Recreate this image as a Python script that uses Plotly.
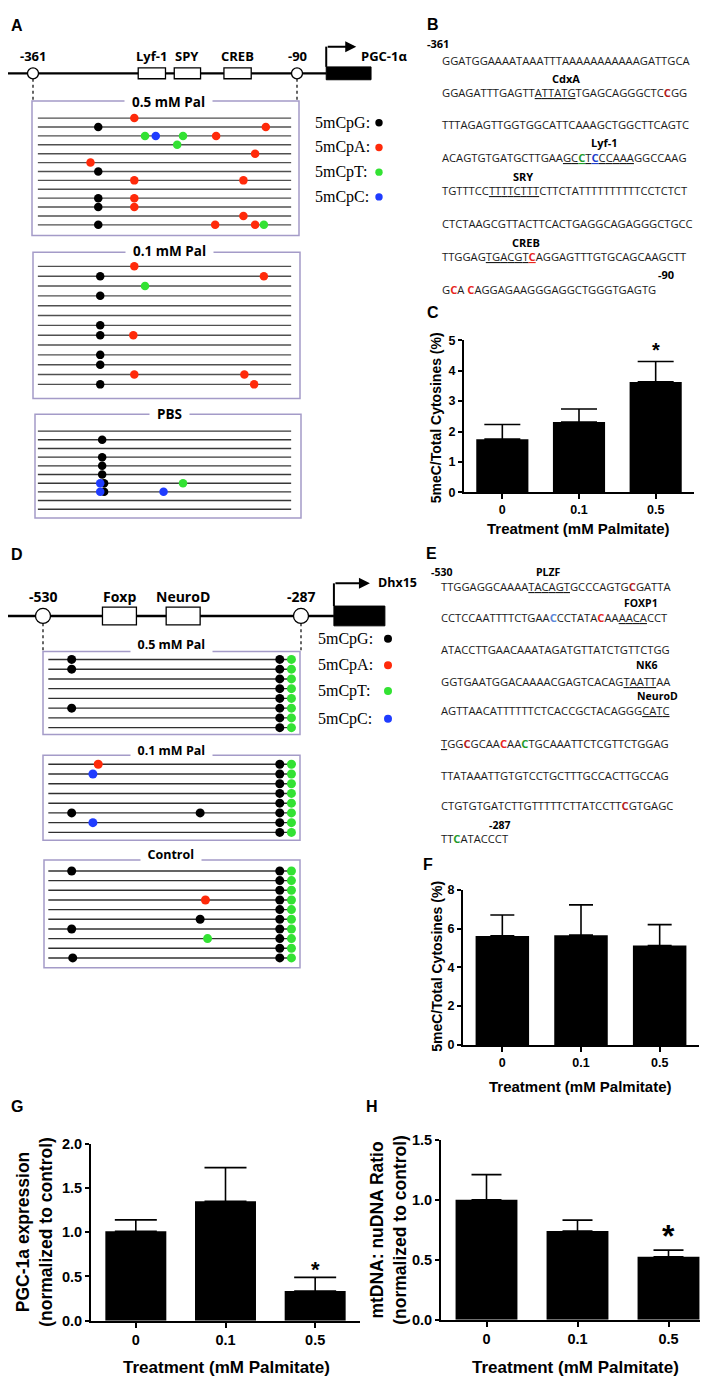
import plotly.graph_objects as go

W, H = 708, 1378

# ======================= DATA =======================
treatment = ["0", "0.1", "0.5"]

# C: PGC-1a promoter methylation (5meC / total cytosines, %)
c_mean = [1.75, 2.31, 3.63]
c_sem = [0.48, 0.43, 0.67]
# F: Dhx15 promoter methylation
f_mean = [5.62, 5.66, 5.12]
f_sem = [1.08, 1.56, 1.08]
# G: PGC-1a expression (normalized to control)
g_mean = [1.01, 1.35, 0.335]
g_sem = [0.13, 0.38, 0.155]
# H: mtDNA : nuDNA ratio (normalized to control)
h_mean = [1.00, 0.74, 0.525]
h_sem = [0.21, 0.09, 0.055]
significant = "0.5"

# A: PGC-1a promoter region (bp)
pgc_region = [-361, -90]
pgc_site_names = ["Lyf-1", "SPY", "CREB"]
pgc_site_start = [-253, -216, -165]
pgc_site_end = [-225, -189, -137]
pgc_gene = [-60, -14]
pgc_read_span = [-356, -96]

pgc_05 = [
    [(-257, "A")],
    [(-294, "G"), (-122, "A")],
    [(-246, "T"), (-235, "C"), (-207, "T"), (-173, "A")],
    [(-213, "T")],
    [(-133, "A")],
    [(-302, "A")],
    [(-294, "G")],
    [(-257, "A"), (-145, "A")],
    [],
    [(-294, "G"), (-257, "A")],
    [(-294, "G"), (-257, "A")],
    [(-145, "A")],
    [(-294, "G"), (-174, "A"), (-133, "A"), (-124, "T")],
]
pgc_01 = [
    [(-257, "A")],
    [(-292, "G"), (-124, "A")],
    [(-246, "T")],
    [(-292, "G")],
    [],
    [],
    [(-292, "G")],
    [(-292, "G"), (-258, "A")],
    [],
    [(-292, "G")],
    [(-292, "G")],
    [(-257, "A"), (-144, "A")],
    [(-292, "G"), (-134, "A")],
]
pgc_pbs = [
    [],
    [(-290, "G")],
    [],
    [(-290, "G")],
    [(-290, "G")],
    [(-290, "G")],
    [(-288, "G"), (-292, "C"), (-207, "T")],
    [(-288, "G"), (-292, "C"), (-227, "C")],
    [],
    [],
]

# D: Dhx15 promoter region (bp)
dhx_region = [-530, -287]
dhx_site_names = ["Foxp", "NeuroD"]
dhx_site_start = [-474, -414]
dhx_site_end = [-442, -382]
dhx_gene = [-256, -208]
dhx_read_span = [-525, -296]

dhx_05 = [
    [(-503, "G"), (-307, "G"), (-296, "T")],
    [(-503, "G"), (-307, "G"), (-296, "T")],
    [(-307, "G"), (-296, "T")],
    [(-307, "G"), (-296, "T")],
    [(-307, "G"), (-296, "T")],
    [(-503, "G"), (-307, "G"), (-296, "T")],
    [(-307, "G"), (-296, "T")],
    [(-307, "G"), (-296, "T")],
]
dhx_01 = [
    [(-478, "A"), (-307, "G"), (-296, "T")],
    [(-483, "C"), (-307, "G"), (-296, "T")],
    [(-307, "G"), (-296, "T")],
    [(-307, "G"), (-296, "T")],
    [(-307, "G"), (-296, "T")],
    [(-503, "G"), (-382, "G"), (-307, "G"), (-296, "T")],
    [(-483, "C"), (-307, "G"), (-296, "T")],
    [(-307, "G"), (-296, "T")],
]
dhx_ctrl = [
    [(-503, "G"), (-307, "G"), (-296, "T")],
    [(-307, "G"), (-296, "T")],
    [(-307, "G"), (-296, "T")],
    [(-377, "A"), (-307, "G"), (-296, "T")],
    [(-307, "G"), (-296, "T")],
    [(-382, "G"), (-307, "G"), (-296, "T")],
    [(-503, "G"), (-307, "G"), (-296, "T")],
    [(-375, "T"), (-307, "G"), (-296, "T")],
    [(-307, "G"), (-296, "T")],
    [(-502, "G"), (-307, "G"), (-296, "T")],
]

legend_labels = ["5mCpG:", "5mCpA:", "5mCpT:", "5mCpC:"]
legend_keys = ["G", "A", "T", "C"]

# B / E sequences: [..] underlined, {k:C} coloured base
seq_B = [
    "GGATGGAAAATAAATTTAAAAAAAAAAAGATTGCA",
    "GGAGATTTGAGTT[ATTATG]TGAGCAGGGCTC{d:C}GG",
    "TTTAGAGTTGGTGGCATTCAAAGCTGGCTTCAGTC",
    "ACAGTGTGATGCTTGAA[GC{g:C}T{b:C}CCAAA]GGCCAAG",
    "TGTTTCC[TTTTCTTT]CTTCTATTTTTTTTTTCCTCTCT",
    "CTCTAAGCGTTACTTCACTGAGGCAGAGGGCTGCC",
    "TTGGAG[TGACGT{r:C}]AGGAGTTTGTGCAGCAAGCTT",
    "G{r:C}A {r:C}AGGAGAAGGGAGGCTGGGTGAGTG",
]
seq_B_labels = [("-361", "left"), ("CdxA", "center"), ("Lyf-1", "center"),
                ("SRY", "center"), ("CREB", "center"), ("-90", "center")]
seq_E = [
    "TTGGAGGCAAAA[TACAGT]GCCCAGTG{d:C}GATTA",
    "CCTCCAATTTTCTGAA{l:C}CCTATA{r:C}AA[AACA]CCT",
    "ATACCTTGAACAAATAGATGTTATCTGTTCTGG",
    "GGTGAATGGACAAAACGAGTCACAG[TAATT]AA",
    "AGTTAACATTTTTTCTCACCGCTACAGGG[CATC]",
    "[T]GG{d:C}GCAA{r:C}AA{g:C}TGCAAATTCTCGTTCTGGAG",
    "TTATAAATTGTGTCCTGCTTTGCCACTTGCCAG",
    "CTGTGTGATCTTGTTTTTCTTATCCTT{d:C}GTGAGC",
    "TT{g:C}ATACCCT",
]
seq_E_labels = [("-530", "left"), ("PLZF", "center"), ("FOXP1", "center"),
                ("NK6", "center"), ("NeuroD", "center"), ("-287", "center")]

# ======================= STYLE / LAYOUT =======================
AX_FONT = "Liberation Sans, Arial, sans-serif"
DG_FONT = "Open Sans, Liberation Sans, sans-serif"
SERIF = "Liberation Serif, Times New Roman, serif"
DOT = {"G": "#000000", "A": "#ff2a0a", "T": "#33e233", "C": "#1f3cff"}
SEQ_COL = {"r": "#e8251e", "d": "#b3201c", "g": "#1e9a2a", "b": "#1f3fcc", "l": "#5a86d8"}
FRAME = "#a49bc8"
SEQ_FS = 11.2

fig = go.Figure()
shapes, annotations = [], []
layout = dict(width=W, height=H, margin=dict(l=0, r=0, t=0, b=0),
              paper_bgcolor="white", plot_bgcolor="rgba(0,0,0,0)", showlegend=False)


def X(p):
    return p / W


def Y(p):
    return 1 - p / H


def ann(text, x, y, size, family=AX_FONT, color="black", xanchor="center",
        yanchor="middle", xref="paper", yref="paper", **kw):
    d = dict(text=text, x=X(x) if xref == "paper" else x, y=Y(y) if yref == "paper" else y,
             xref=xref, yref=yref, xanchor=xanchor, yanchor=yanchor, showarrow=False,
             font=dict(family=family, size=size, color=color))
    d.update(kw)
    annotations.append(d)


# ---------------- bar charts ----------------
bar_specs = [
    ("", c_mean, c_sem, (456, 686), (328, 482), [0, 5], 1, "d", 12.5, 18),
    ("2", f_mean, f_sem, (455, 691), (884, 1041), [0, 8], 2, "d", 12.5, 12),
    ("3", g_mean, g_sem, (83, 352), (1141, 1320), [0, 2], 0.5, ".1f", 14.5, 21),
    ("4", h_mean, h_sem, (433, 706), (1137, 1319), [0, 1.5], 0.5, ".1f", 14.5, 15),
]
for s, mean, sem, (x0, x1), (y0, y1), yr, dt, fmt, fs, cap in bar_specs:
    fig.add_trace(go.Bar(
        x=treatment, y=mean, width=0.68, marker=dict(color="black", line=dict(width=0)),
        error_y=dict(type="data", symmetric=False, array=sem, arrayminus=[0] * len(sem),
                     color="black", thickness=1.6, width=cap),
        xaxis="x" + s, yaxis="y" + s, hoverinfo="skip"))
    tf = dict(family=AX_FONT, size=fs, color="black", weight="bold")
    layout["xaxis" + s] = dict(domain=[X(x0), X(x1)], anchor="y" + s, type="category",
                               range=[-0.5, 2.5], showline=True, linecolor="black", linewidth=2,
                               ticks="outside", ticklen=5, tickwidth=1.5, tickcolor="black",
                               showgrid=False, zeroline=False, tickfont=tf, fixedrange=True)
    layout["yaxis" + s] = dict(domain=[Y(y1), Y(y0)], anchor="x" + s, range=yr, dtick=dt, tick0=0,
                               tickformat=fmt, showline=True, linecolor="black", linewidth=2,
                               ticks="outside", ticklen=4, tickwidth=1.5, tickcolor="black",
                               showgrid=False, zeroline=False, tickfont=tf, fixedrange=True)

# significance stars
si = treatment.index(significant)
ann("<b>*</b>", si, c_mean[si] + c_sem[si], 20, xref="x", yref="y", yshift=12)
ann("<b>*</b>", si, g_mean[si] + g_sem[si], 22, xref="x3", yref="y3", yshift=8)
ann("<b>*</b>", si, h_mean[si] + h_sem[si], 32, xref="x4", yref="y4", yshift=14)

# axis titles
ann("<b>5meC/Total Cytosines (%)</b>", 428, 407, 14, textangle=-90)
ann("<b>Treatment (mM Palmitate)</b>", 570, 519, 15)
ann("<b>5meC/Total Cytosines (%)</b>", 429, 962, 14, textangle=-90)
ann("<b>Treatment (mM Palmitate)</b>", 572, 1083, 15)
ann("<b>PGC-1a expression<br>(normalized to control)</b>", 27, 1230, 17.5, textangle=-90)
ann("<b>Treatment (mM Palmitate)</b>", 218, 1367, 17)
ann("<b>mtDNA: nuDNA Ratio<br>(normalized to control)</b>", 381, 1228, 17.5, textangle=-90)
ann("<b>Treatment (mM Palmitate)</b>", 567, 1367, 17)


# ---------------- methylation diagrams ----------------
def full_range(p0, v0, p1, v1):
    k = (v1 - v0) / (p1 - p0)
    return [v0 - p0 * k, v0 + (W - p0) * k]


def row_axis(name, anchor, first, last, n):
    sp = (last - first) / (n - 1)
    layout[name] = dict(domain=[Y(last + sp / 2), Y(first - sp / 2)], range=[n - 0.5, -0.5],
                        anchor=anchor, visible=False, fixedrange=True)


def clone_traces(rows, xa, ya, span, size, lcolor):
    lx, ly = [], []
    for i in range(len(rows)):
        lx += [span[0], span[1], None]
        ly += [i, i, None]
    fig.add_trace(go.Scatter(x=lx, y=ly, mode="lines", line=dict(color=lcolor, width=1.4),
                             xaxis=xa, yaxis=ya, hoverinfo="skip"))
    for key in legend_keys:
        xs, ys = [], []
        for i, row in enumerate(rows):
            for pos, c in row:
                if c == key:
                    xs.append(pos)
                    ys.append(i)
        if xs:
            fig.add_trace(go.Scatter(x=xs, y=ys, mode="markers", cliponaxis=False,
                                     marker=dict(size=size, color=DOT[key], line=dict(width=0)),
                                     xaxis=xa, yaxis=ya, hoverinfo="skip"))


def frame(x0, x1, y0, y1, title, tx, ty, tsize):
    shapes.append(dict(type="rect", xref="paper", yref="paper", x0=X(x0), x1=X(x1),
                       y0=Y(y1), y1=Y(y0), line=dict(color=FRAME, width=1.5), fillcolor="rgba(0,0,0,0)"))
    ann("<b>\u00a0 " + title + " \u00a0</b>", tx, ty, tsize, family=DG_FONT, bgcolor="white",
        borderpad=0)


def promoter(xa, axr, yline, region, names, starts, ends, gene, gene_label, bh, cr,
             lab_y, lab_fs, dash_to, arrow_top, arrow_len, gl_x, gl_y, gl_fs):
    shapes.append(dict(type="line", xref=xa, yref="paper", x0=axr[0], x1=gene[0],
                       y0=Y(yline), y1=Y(yline), line=dict(color="black", width=2.4)))
    for nm, a, b in zip(names, starts, ends):
        shapes.append(dict(type="rect", xref=xa, yref="paper", x0=a, x1=b, y0=Y(yline + bh / 2),
                           y1=Y(yline - bh / 2), fillcolor="white", line=dict(color="black", width=1.3)))
        ann("<b>" + nm + "</b>", (a + b) / 2, lab_y, lab_fs, family=DG_FONT, xref=xa)
    shapes.append(dict(type="rect", xref=xa, yref="paper", x0=gene[0], x1=gene[1],
                       y0=Y(yline + bh / 2 + 1), y1=Y(yline - bh / 2 - 1), fillcolor="black",
                       line=dict(color="black", width=1)))
    shapes.append(dict(type="line", xref=xa, yref="paper", x0=gene[0], x1=gene[0],
                       y0=Y(yline - bh / 2 - 1), y1=Y(arrow_top), line=dict(color="black", width=2)))
    annotations.append(dict(text="", x=gene[0], y=Y(arrow_top), xref=xa, yref="paper",
                            xshift=arrow_len, ax=-arrow_len, ay=0, showarrow=True, arrowhead=2,
                            arrowsize=1.1, arrowwidth=2, arrowcolor="black", standoff=0))
    ann("<b>" + gene_label + "</b>", gl_x, gl_y, gl_fs, family=DG_FONT, xanchor="left")
    for r in region:
        shapes.append(dict(type="line", xref=xa, yref="paper", x0=r, x1=r, y0=Y(yline + cr),
                           y1=Y(dash_to), line=dict(color="black", width=1.2, dash="3px,3px")))
        shapes.append(dict(type="circle", xref=xa, yref="paper", xsizemode="pixel",
                           ysizemode="pixel", xanchor=r, yanchor=Y(yline), x0=-cr, x1=cr,
                           y0=-cr, y1=cr, fillcolor="white", line=dict(color="black", width=1.3)))
        ann("<b>%d</b>" % r, r, lab_y, lab_fs, family=DG_FONT, xref=xa)


# ---- panel A ----
xA_range = full_range(25, pgc_region[0], 289, pgc_region[1])
layout["xaxis5"] = dict(domain=[0, 1], range=xA_range, anchor="y5", visible=False, fixedrange=True)
row_axis("yaxis5", "x5", 103.3, 211.3, len(pgc_05))
row_axis("yaxis6", "x5", 253.3, 372.7, len(pgc_01))
row_axis("yaxis7", "x5", 420.0, 499.0, len(pgc_pbs))
promoter("x5", xA_range, 58, pgc_region, pgc_site_names, pgc_site_start, pgc_site_end,
         pgc_gene, "PGC-1\u03b1", 11, 5.5, 40, 13, 86, 31, 30, 351, 40, 13)
frame(24, 291, 86, 222, "0.5 mM Pal", 160, 87, 13.5)
frame(25, 292, 239, 387, "0.1 mM Pal", 161, 238, 13.5)
frame(27, 293, 403, 508, "PBS", 161, 403, 13.5)
clone_traces(pgc_05, "x5", "y5", pgc_read_span, 8.5, "#505050")
clone_traces(pgc_01, "x5", "y6", pgc_read_span, 8.5, "#505050")
clone_traces(pgc_pbs, "x5", "y7", pgc_read_span, 8.5, "#383838")

# ---- panel D ----
xD_range = full_range(35, dhx_region[0], 293, dhx_region[1])
layout["xaxis6"] = dict(domain=[0, 1], range=xD_range, anchor="y8", visible=False, fixedrange=True)
row_axis("yaxis8", "x6", 651, 720, len(dhx_05))
row_axis("yaxis9", "x6", 757, 826, len(dhx_01))
row_axis("yaxis10", "x6", 865, 953, len(dhx_ctrl))
promoter("x6", xD_range, 607, dhx_region, dhx_site_names, dhx_site_start, dhx_site_end,
         dhx_gene, "Dhx15", 18, 7.5, 587, 14, 643, 574, 36, 368, 573, 12.5)
frame(35, 292, 643, 727, "0.5 mM Pal", 163, 636, 12.5)
frame(35, 292, 748, 834, "0.1 mM Pal", 163, 743, 12.5)
frame(36, 292, 854, 963, "Control", 163, 848, 12.5)
clone_traces(dhx_05, "x6", "y8", dhx_read_span, 9, "#303030")
clone_traces(dhx_01, "x6", "y9", dhx_read_span, 9, "#303030")
clone_traces(dhx_ctrl, "x6", "y10", dhx_read_span, 9, "#303030")

# ---- legends ----
for (lx, dx, ys, dr) in [(305, 371, [108, 133, 158, 183], 3.7), (308, 380, [630, 657, 683, 711], 4)]:
    for lab, key, yy in zip(legend_labels, legend_keys, ys):
        ann(lab, lx, yy, 16, family=SERIF, xanchor="left")
        shapes.append(dict(type="circle", xref="paper", yref="paper", xsizemode="pixel",
                           ysizemode="pixel", xanchor=X(dx), yanchor=Y(yy), x0=-dr, x1=dr,
                           y0=-dr, y1=dr, fillcolor=DOT[key], line=dict(width=0)))


# ---------------- sequences ----------------
def seq_to_html(s):
    out, ul, i = [], False, 0
    while i < len(s):
        ch = s[i]
        if ch == "[":
            ul = True
            i += 1
            continue
        if ch == "]":
            ul = False
            i += 1
            continue
        if ch == "{":
            j = s.index("}", i)
            k, letters = s[i + 1:j].split(":")
            style = "color:%s;font-weight:bold" % SEQ_COL[k]
            i = j + 1
        else:
            letters, style = ch, ""
            i += 1
        if ul:
            style = (style + ";" if style else "") + "text-decoration:underline"
        out.append("<span style='%s'>%s</span>" % (style, letters) if style else letters)
    return "".join(out)


seq_B_y = [45, 77, 110, 143, 177, 210, 243, 277]
seq_B_lab_pos = [(417, 28), (558, 63), (596, 128), (515, 162), (518, 229), (658, 262)]
for s, yy in zip(seq_B, seq_B_y):
    ann(seq_to_html(s), 432, yy, SEQ_FS, family=DG_FONT, color="#1a1a1a", xanchor="left")
for (lab, anc), (lx, ly) in zip(seq_B_labels, seq_B_lab_pos):
    ann("<b>" + lab + "</b>", lx, ly, 11, family=DG_FONT, xanchor=anc)

seq_E_y = [577, 609, 641, 673, 703, 736, 768, 799, 832]
seq_E_lab_pos = [(421, 563), (540, 563), (633, 594), (639, 657), (649, 688), (491, 819)]
for s, yy in zip(seq_E, seq_E_y):
    ann(seq_to_html(s), 431, yy, SEQ_FS, family=DG_FONT, color="#1a1a1a", xanchor="left")
for (lab, anc), (lx, ly) in zip(seq_E_labels, seq_E_lab_pos):
    ann("<b>" + lab + "</b>", lx, ly, 10.5, family=DG_FONT, xanchor=anc)

# ---------------- panel letters ----------------
for letter, lx, ly in [("A", 9, 10), ("B", 425, 9), ("C", 425, 300), ("D", 9, 545),
                       ("E", 423, 544), ("F", 420, 858), ("G", 9, 1103), ("H", 364, 1103)]:
    ann("<b>" + letter + "</b>", lx, ly, 16, family=AX_FONT)

layout["shapes"] = shapes
layout["annotations"] = annotations
fig.update_layout(**layout)
fig.write_html("out.html")
